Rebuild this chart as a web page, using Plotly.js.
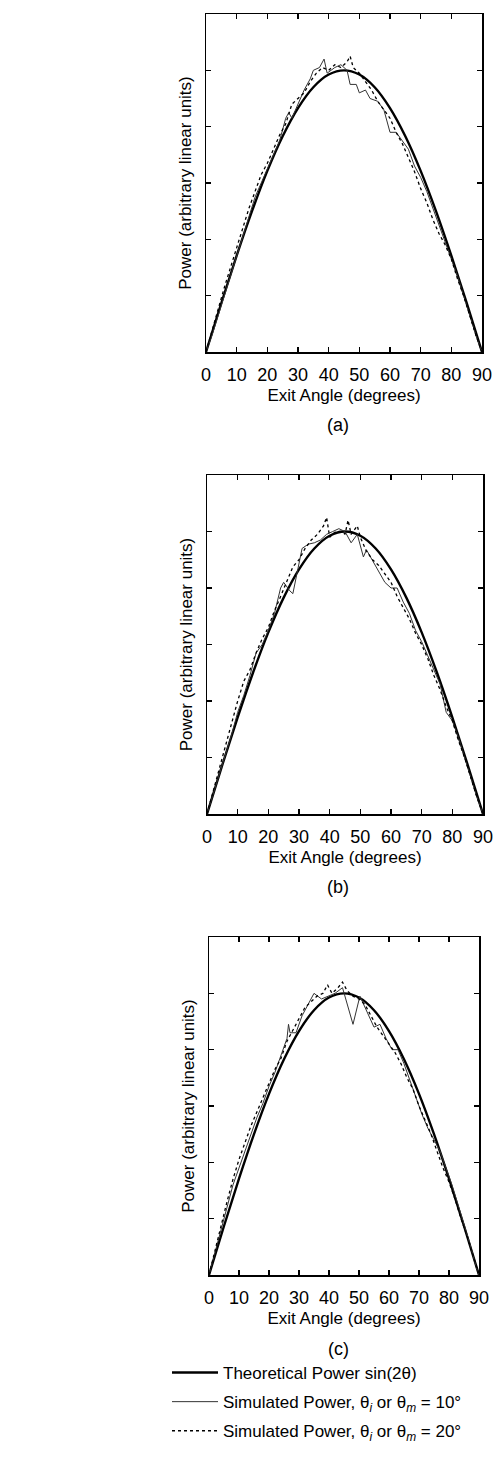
<!DOCTYPE html>
<html>
<head>
<meta charset="utf-8">
<script src="https://cdn.plot.ly/plotly-3.0.1.min.js"></script>
<style>html,body{margin:0;padding:0;background:#fff;}#chart{width:497px;height:1475px;}</style>
</head>
<body>
<div id="chart"></div>
<script>
// Theoretical power sin(2θ), read at 5° steps
const theoAngle = [0,5,10,15,20,25,30,35,40,45,50,55,60,65,70,75,80,85,90];
const theoPower = [0,0.174,0.342,0.5,0.643,0.766,0.866,0.940,0.985,1.0,0.985,0.940,0.866,0.766,0.643,0.5,0.342,0.174,0];

// Panel (a)
const aAngle10 = [0,2,4,6,8,10,12,14,16,18,20,22,24,26,27,28,30,32,34,35,37,38.5,39.5,42,44,46,47,49,50,52,53.5,56,58,60,62,64,66,68,70,72,74,76,78,80,82,84,86,88,90];
const aPower10 = [0,0.06,0.13,0.2,0.27,0.34,0.41,0.48,0.55,0.60,0.65,0.70,0.75,0.83,0.85,0.83,0.88,0.93,0.97,1.0,1.01,1.04,0.99,1.01,1.02,1.0,0.95,0.95,0.92,0.93,0.90,0.89,0.86,0.78,0.78,0.75,0.72,0.66,0.62,0.57,0.51,0.45,0.39,0.33,0.27,0.20,0.13,0.06,0];
const aAngle20 = [0,2,4,6,8,10,12,14,16,18,20,22,24,26,28,30,32,34,36,38,40,42,44,46,47,48,50,52,54,56,58,60,62,64,66,68,70,72,74,76,78,80,82,84,86,88,90];
const aPower20 = [0,0.08,0.15,0.23,0.30,0.37,0.44,0.51,0.57,0.63,0.67,0.72,0.77,0.81,0.88,0.90,0.92,0.96,0.99,1.01,1.0,1.02,1.01,1.03,1.05,1.01,0.99,0.96,0.93,0.89,0.86,0.83,0.78,0.74,0.69,0.64,0.58,0.53,0.47,0.42,0.38,0.33,0.26,0.20,0.13,0.06,0];

// Panel (b)
const bAngle10 = [0,2,4,6,8,10,12,14,16,18,20,22,24,25,27,28,30,31,33,35,37,39,41,43,45,47,49,51,52,55,58,60,62,64,66,68,70,72,74,76,78,80,82,84,86,88,90];
const bPower10 = [0,0.07,0.14,0.21,0.28,0.36,0.42,0.49,0.57,0.60,0.65,0.71,0.80,0.82,0.79,0.78,0.88,0.94,0.955,0.96,0.97,0.99,1.0,1.01,1.0,0.96,0.99,0.91,0.935,0.88,0.82,0.80,0.80,0.75,0.71,0.65,0.61,0.56,0.51,0.46,0.36,0.33,0.27,0.20,0.13,0.06,0];
const bAngle20 = [0,2,4,6,8,10,12,14,16,18,20,22,24,26,28,30,32,34,36,38,39,40,42,44,45,46,47,49,50,52,54,56,58,60,62,64,66,68,70,72,74,76,78,80,82,84,86,88,90];
const bPower20 = [0,0.08,0.15,0.23,0.32,0.40,0.47,0.51,0.57,0.62,0.66,0.72,0.77,0.82,0.875,0.90,0.94,0.97,0.99,1.02,1.05,0.98,1.0,1.0,0.99,1.04,0.99,1.02,0.98,0.93,0.90,0.88,0.85,0.82,0.77,0.73,0.69,0.64,0.60,0.55,0.49,0.44,0.38,0.33,0.26,0.20,0.13,0.06,0];

// Panel (c)
const cAngle10 = [0,2,4,6,8,10,12,14,16,18,20,22,24,26,26.5,27,29,31,33,35,37.5,40,42,44.5,48,50.3,52,55,57,59,61,63,65,67,69,71,73,75,77,79,81,83,85,87,89,90];
const cPower10 = [0,0.08,0.16,0.24,0.32,0.38,0.44,0.50,0.56,0.61,0.67,0.72,0.78,0.84,0.89,0.86,0.86,0.92,0.96,1.0,0.98,0.99,1.0,1.02,0.89,0.99,0.95,0.88,0.89,0.84,0.80,0.80,0.75,0.69,0.63,0.57,0.52,0.48,0.44,0.38,0.32,0.25,0.18,0.11,0.03,0];
const cAngle20 = [0,2,4,6,8,10,12,14,16,18,20,22,24,26,28,30,32,34,36,38,39.5,41,43,44.5,46,48,50,52,54,56,58,60,62,64,66,68,70,72,74,76,78,80,82,84,86,88,90];
const cPower20 = [0,0.09,0.18,0.26,0.34,0.41,0.47,0.53,0.58,0.63,0.68,0.73,0.77,0.83,0.87,0.91,0.95,0.97,0.99,1.0,1.03,1.0,1.02,1.04,1.01,0.99,0.98,0.96,0.92,0.88,0.85,0.82,0.79,0.75,0.70,0.66,0.60,0.55,0.50,0.44,0.38,0.33,0.27,0.20,0.14,0.07,0];

const xTickVals = [0,10,20,30,40,50,60,70,80,90];
const xTickText = ['0','10','20','30','40','50','60','70','80','90'];
const panelLabels = ['(a)','(b)','(c)'];
const legendNames = ['Theoretical Power sin(2θ)', 'Simulated Power, θ<sub><i>i</i></sub> or θ<sub><i>m</i></sub> = 10°', 'Simulated Power, θ<sub><i>i</i></sub> or θ<sub><i>m</i></sub> = 20°'];

const W = 497, H = 1475;
const panels = [
  {a10:aAngle10,p10:aPower10,a20:aAngle20,p20:aPower20, left:206,right:482,top:14,bottom:352},
  {a10:bAngle10,p10:bPower10,a20:bAngle20,p20:bPower20, left:207,right:483,top:475,bottom:814},
  {a10:cAngle10,p10:cPower10,a20:cAngle20,p20:cPower20, left:209,right:479,top:937,bottom:1275}
];

const FONT = 'Liberation Sans, Arial, sans-serif';
const traces = [];
const layout = {
  width: W, height: H,
  margin: {l:0,r:0,t:0,b:0},
  paper_bgcolor: '#fff', plot_bgcolor: '#fff',
  font: {family: FONT, color: '#000', size: 17},
  showlegend: true,
  legend: {
    x: 167/W, xanchor: 'left', y: 1 - 1355/H, yanchor: 'top',
    font: {size: 17, family: FONT, color: '#000'},
    traceorder: 'grouped', tracegroupgap: 4, itemwidth: 46,
    bgcolor: 'rgba(0,0,0,0)', borderwidth: 0
  },
  annotations: []
};

panels.forEach((p, i) => {
  const n = i === 0 ? '' : String(i + 1);
  const xa = 'x' + n, ya = 'y' + n;
  const show = i === 2;
  traces.push({x: theoAngle, y: theoPower, xaxis: xa, yaxis: ya, mode: 'lines', line: {color:'#000', width: 2.4, shape: 'spline'}, name: legendNames[0], legendgroup: 'g1', showlegend: show});
  traces.push({x: p.a10, y: p.p10, xaxis: xa, yaxis: ya, mode: 'lines', line: {color:'#333', width: 1}, name: legendNames[1], legendgroup: 'g2', showlegend: show});
  traces.push({x: p.a20, y: p.p20, xaxis: xa, yaxis: ya, mode: 'lines', line: {color:'#000', width: 1.3, dash: 'dot'}, name: legendNames[2], legendgroup: 'g3', showlegend: show});

  layout['xaxis' + n] = {
    domain: [p.left / W, p.right / W], anchor: ya,
    range: [0, 90], tickvals: xTickVals, ticktext: xTickText,
    ticks: 'inside', ticklen: 5, tickwidth: 1.5, tickcolor: '#000',
    mirror: 'ticks', showline: true, linecolor: '#000', linewidth: 1.5,
    showgrid: false, zeroline: false, ticklabelstandoff: 6,
    tickfont: {size: 18, family: FONT, color: '#000'},
    title: {text: 'Exit Angle (degrees)', font: {size: 17, family: FONT, color: '#000'}, standoff: 5}
  };
  layout['yaxis' + n] = {
    domain: [1 - p.bottom / H, 1 - p.top / H], anchor: xa,
    range: [0, 1.2], dtick: 0.2, tick0: 0,
    ticks: 'inside', ticklen: 5, tickwidth: 1.5, tickcolor: '#000',
    mirror: 'ticks', showline: true, linecolor: '#000', linewidth: 1.5,
    showgrid: false, zeroline: false, showticklabels: false,
    title: {text: 'Power (arbitrary linear units)', font: {size: 17, family: FONT, color: '#000'}, standoff: 8}
  };
  layout.annotations.push({
    xref: 'paper', yref: 'paper', x: 338 / W, y: 1 - [425, 887, 1349][i] / H,
    text: panelLabels[i], showarrow: false, xanchor: 'center', yanchor: 'middle',
    font: {size: 18, family: FONT, color: '#000'}
  });
});

Plotly.newPlot('chart', traces, layout, {displayModeBar: false, staticPlot: true});
</script>
</body>
</html>
